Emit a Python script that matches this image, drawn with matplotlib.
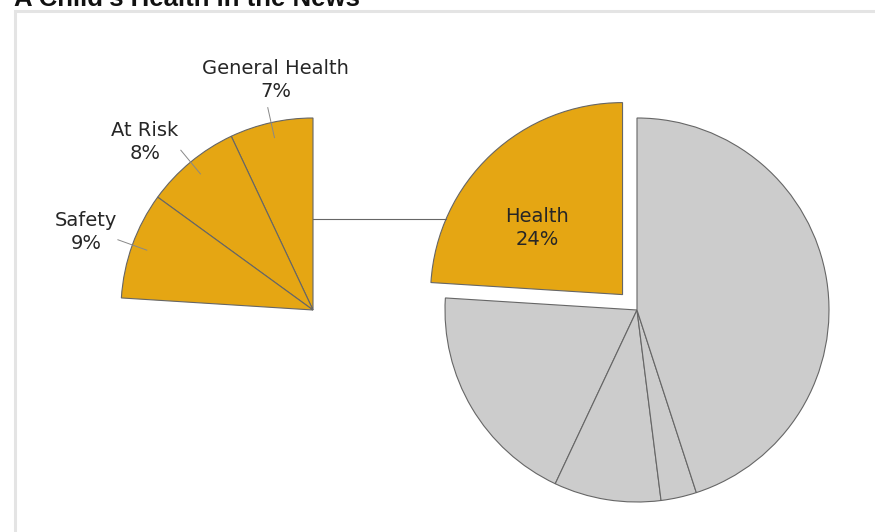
import numpy as np
import matplotlib
matplotlib.use("Agg")
import matplotlib.pyplot as plt
from matplotlib.patches import Rectangle

# ---- data ----
main_labels = ["Health", "Other A", "Other B", "Other C", "Other D"]
main_values = [24, 19, 9, 3, 45]
sub_labels = ["General Health", "At Risk", "Safety"]
sub_values = [7, 8, 9]
title = "A Child\u2019s Health in the News"

# ---- style ----
GOLD = "#E5A613"
GRAY = "#CCCCCC"
EDGE = "#666666"
TXT = "#262626"
W, H = 875, 532
R = 192
main_center = (637, 222)
sub_center = (313, 222)
explode_frac = 0.11
connector_y = 313

fig = plt.figure(figsize=(W / 100, H / 100), dpi=100)
ax = fig.add_axes([0, 0, 1, 1])

main_colors = [GOLD] + [GRAY] * (len(main_values) - 1)
explode = [explode_frac * R] + [0] * (len(main_values) - 1)
wp = dict(edgecolor=EDGE, linewidth=0.8)
mw, _ = ax.pie(main_values, startangle=90, counterclock=True, colors=main_colors,
               explode=explode, center=main_center, radius=R, wedgeprops=wp)

sub_fracs = [v / 100 for v in sub_values]
sw, _ = ax.pie(sub_fracs, startangle=90, counterclock=True, colors=[GOLD] * 3,
               normalize=False, center=sub_center, radius=R, wedgeprops=wp)

ax.set_xlim(0, W)
ax.set_ylim(0, H)
ax.set_aspect("equal")
ax.axis("off")

# connector line from sub-pie edge to exploded Health wedge
mid = np.deg2rad(90 + main_values[0] * 3.6 / 2)
ec = (main_center[0] + explode_frac * R * np.cos(mid), main_center[1] + explode_frac * R * np.sin(mid))
dy = connector_y - ec[1]
x_end = ec[0] - np.sqrt(R ** 2 - dy ** 2)
ax.plot([sub_center[0], x_end], [connector_y, connector_y], color=EDGE, lw=0.8)

# health label
ax.text(537, 304, f"{main_labels[0]}\n{main_values[0]}%", ha="center", va="center",
        fontsize=14, color=TXT, linespacing=1.3, family="DejaVu Sans")

# sub labels with leader lines
label_pos = [(275.5, 452), (145, 390), (86, 300)]
start = 90
for lab, v, pos in zip(sub_labels, sub_values, label_pos):
    a = np.deg2rad(start + v * 3.6 / 2)
    start += v * 3.6
    r0, r1 = 0.92 * R, 1.08 * R
    ax.plot([sub_center[0] + r0 * np.cos(a), sub_center[0] + r1 * np.cos(a)],
            [sub_center[1] + r0 * np.sin(a), sub_center[1] + r1 * np.sin(a)],
            color="#888888", lw=0.7)
    ax.text(pos[0], pos[1], f"{lab}\n{v}%", ha="center", va="center",
            fontsize=14, color=TXT, linespacing=1.3, family="DejaVu Sans")

# frame
fig.patches.append(Rectangle((15 / W, -0.1), 2.0, (H - 11) / H + 0.1,
                             transform=fig.transFigure, fill=False,
                             edgecolor="#E4E4E4", linewidth=2.2, zorder=0))

# title
fig.text(14 / W, 1 - 6 / H, title, ha="left", va="baseline", fontsize=18.5,
         fontweight="bold", color="#111111", family="Liberation Sans")

fig.savefig("out.png", dpi=100)
